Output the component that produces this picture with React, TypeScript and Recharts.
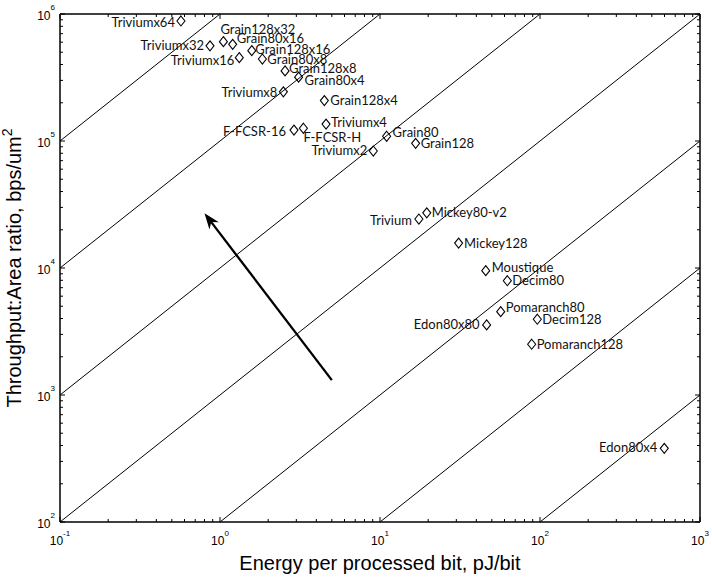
import { ScatterChart, Scatter, XAxis, YAxis, ReferenceLine } from "recharts";

// stream cipher designs, energy (pJ/bit) vs throughput:area (bps/um^2)
const designs = [
  "Triviumx64", "Triviumx32", "Grain128x32", "Grain80x16", "Triviumx16",
  "Grain128x16", "Grain80x8", "Grain128x8", "Triviumx8", "Grain80x4",
  "Grain128x4", "Triviumx4", "F-FCSR-16", "F-FCSR-H", "Grain80",
  "Triviumx2", "Grain128", "Trivium", "Mickey80-v2", "Mickey128",
  "Moustique", "Decim80", "Pomaranch80", "Edon80x80", "Decim128",
  "Pomaranch128", "Edon80x4",
];
const energy = [
  0.57, 0.866, 1.05, 1.2, 1.32,
  1.58, 1.84, 2.55, 2.49, 3.1,
  4.49, 4.6, 2.9, 3.32, 11.0,
  9.08, 16.7, 17.5, 19.6, 31.0,
  45.8, 62.5, 56.8, 46.4, 96.2,
  88.7, 598,
];
const throughputArea = [
  881000, 562000, 605000, 577000, 453000,
  514000, 442000, 356000, 244000, 318000,
  208000, 136000, 122000, 126000, 109000,
  83400, 95900, 24300, 27200, 15700,
  9530, 7940, 4530, 3560, 3950,
  2510, 380,
];

const xMajor = [0.1, 1, 10, 100, 1000];
const yMajor = [100, 1000, 10000, 100000, 1000000];
const minorSteps = [2, 3, 4, 5, 6, 7, 8, 9];

// constant efficiency lines: [x1, y1, x2, y2]
const isoLines = [
  [0.1, 1e5, 1, 1e6],
  [0.1, 1e4, 10, 1e6],
  [0.1, 1e3, 100, 1e6],
  [0.1, 1e2, 1000, 1e6],
  [1, 1e2, 1000, 1e5],
  [10, 1e2, 1000, 1e4],
  [100, 1e2, 1000, 1e3],
];
const arrow = [5, 1310, 0.8, 27000];

// label placement: [anchor, dx, dy]
const labelPos: Record<string, [string, number, number]> = {
  Triviumx64: ["end", -6, 6],
  Triviumx32: ["end", -6, 4.5],
  Triviumx16: ["end", -5, 7],
  Triviumx8: ["end", -6, 5],
  Grain128x32: ["start", -3, -8],
  Grain80x16: ["start", 4, -1],
  Grain128x16: ["start", 3.5, 3],
  Grain80x8: ["start", 5, 4.5],
  Grain128x8: ["start", 4, 2.5],
  Grain80x4: ["start", 6, 8],
  Grain128x4: ["start", 6, 4.5],
  Triviumx4: ["start", 5, 3],
  "F-FCSR-16": ["end", -8, 5.5],
  "F-FCSR-H": ["start", 0, 14],
  Triviumx2: ["end", -6, 3.5],
  Grain80: ["start", 6, 0.5],
  Grain128: ["start", 5, 4.5],
  Trivium: ["end", -7, 5.5],
  "Mickey80-v2": ["start", 5, 4.5],
  Mickey128: ["start", 5.5, 4.5],
  Moustique: ["start", 6, 1],
  Decim80: ["start", 5, 4.5],
  Pomaranch80: ["start", 5, 0],
  Edon80x80: ["end", -7, 4.5],
  Decim128: ["start", 5, 4.5],
  Pomaranch128: ["start", 5, 4.5],
  Edon80x4: ["end", -7, 3.5],
};

const points = designs.map((name, i) => ({ name, x: energy[i], y: throughputArea[i] }));

const withMinor = (majors: number[]) => {
  const out: number[] = [];
  majors.forEach((m, i) => {
    out.push(m);
    if (i < majors.length - 1) minorSteps.forEach((s) => out.push(m * s));
  });
  return out;
};
const xTicks = withMinor(xMajor);
const yTicks = withMinor(yMajor);

const isMajor = (v: number) => Math.abs(Math.log10(v) - Math.round(Math.log10(v))) < 1e-6;

const tickFont = "'Liberation Sans', Arial, sans-serif";

const XTick = (props: any) => {
  const { x, y, payload, side } = props;
  const major = isMajor(payload.value);
  const len = major ? 5 : 3;
  const dir = side === "bottom" ? -1 : 1;
  return (
    <g>
      <line x1={x} x2={x} y1={y} y2={y + dir * len} stroke="#000" strokeWidth={1} />
      {major && side === "bottom" && (
        <text x={x} y={y + 23} textAnchor="middle" fontSize={12} fontFamily={tickFont} fill="#000">
          10
          <tspan fontSize={8} dy={-9}>{Math.round(Math.log10(payload.value))}</tspan>
        </text>
      )}
    </g>
  );
};

const YTick = (props: any) => {
  const { x, y, payload, side } = props;
  const major = isMajor(payload.value);
  const len = major ? 5 : 3;
  const dir = side === "left" ? 1 : -1;
  return (
    <g>
      <line x1={x} x2={x + dir * len} y1={y} y2={y} stroke="#000" strokeWidth={1} />
      {major && side === "left" && (
        <text x={x - 5} y={y + 6} textAnchor="end" fontSize={12} fontFamily={tickFont} fill="#000">
          10
          <tspan fontSize={8} dy={-10}>{Math.round(Math.log10(payload.value))}</tspan>
        </text>
      )}
    </g>
  );
};

const Marker = (props: any) => {
  const { cx, cy, payload } = props;
  const [anchor, dx, dy] = labelPos[payload.name] ?? ["start", 5, 4.5];
  return (
    <g>
      <path
        d={`M${cx},${cy - 5}L${cx + 4},${cy}L${cx},${cy + 5}L${cx - 4},${cy}Z`}
        fill="none"
        stroke="#000"
        strokeWidth={1.1}
      />
      <text
        x={cx + dx}
        y={cy + dy}
        textAnchor={anchor}
        fontSize={13}
        fontFamily="Lato, 'Open Sans', sans-serif"
        fill="#111"
      >
        {payload.name}
      </text>
    </g>
  );
};

const ArrowShape = (props: any) => {
  const { x1, y1, x2, y2 } = props;
  const ang = Math.atan2(y2 - y1, x2 - x1);
  const L = 16;
  const W = 6;
  const bx = x2 - L * Math.cos(ang);
  const by = y2 - L * Math.sin(ang);
  const nx = -Math.sin(ang);
  const ny = Math.cos(ang);
  const mx = x2 - L * 0.7 * Math.cos(ang);
  const my = y2 - L * 0.7 * Math.sin(ang);
  return (
    <g>
      <line x1={x1} y1={y1} x2={mx} y2={my} stroke="#000" strokeWidth={2.3} />
      <path
        d={`M${x2},${y2}L${bx + nx * W},${by + ny * W}L${mx},${my}L${bx - nx * W},${by - ny * W}Z`}
        fill="#000"
      />
    </g>
  );
};

const XTitle = (props: any) => {
  const { viewBox } = props;
  return (
    <text
      x={viewBox.x + viewBox.width / 2}
      y={viewBox.y + 48}
      textAnchor="middle"
      fontSize={20}
      fontFamily={tickFont}
      fill="#000"
    >
      Energy per processed bit, pJ/bit
    </text>
  );
};

const YTitle = (props: any) => {
  const { viewBox } = props;
  const cx = 21;
  const cy = viewBox.y + viewBox.height / 2;
  return (
    <text
      x={cx}
      y={cy}
      transform={`rotate(-90 ${cx} ${cy})`}
      textAnchor="middle"
      fontSize={20}
      fontFamily={tickFont}
      fill="#000"
    >
      Throughput:Area ratio, bps/um
      <tspan fontSize={14} dy={-9}>2</tspan>
    </text>
  );
};

export default function App() {
  return (
    <div style={{ position: "absolute", left: 0, top: 0, background: "#fff" }}>
      <ScatterChart width={712} height={581} margin={{ top: 0, right: 11, bottom: 0, left: 0 }}>
        <XAxis
          xAxisId="b"
          type="number"
          dataKey="x"
          scale="log"
          domain={[0.1, 1000]}
          allowDataOverflow
          ticks={xTicks}
          interval={0}
          height={59}
          tickSize={0}
          tickMargin={0}
          tick={(p: any) => <XTick {...p} side="bottom" />}
          axisLine={{ stroke: "#000", strokeWidth: 1.5 }}
          label={<XTitle />}
        />
        <XAxis
          xAxisId="t"
          orientation="top"
          type="number"
          dataKey="x"
          scale="log"
          domain={[0.1, 1000]}
          allowDataOverflow
          ticks={xTicks}
          interval={0}
          height={14}
          tickSize={0}
          tickMargin={0}
          tick={(p: any) => <XTick {...p} side="top" />}
          axisLine={{ stroke: "#000", strokeWidth: 1.5 }}
        />
        <YAxis
          yAxisId="l"
          type="number"
          dataKey="y"
          scale="log"
          domain={[100, 1000000]}
          allowDataOverflow
          ticks={yTicks}
          interval={0}
          width={60}
          tickSize={0}
          tickMargin={0}
          tick={(p: any) => <YTick {...p} side="left" />}
          axisLine={{ stroke: "#000", strokeWidth: 1.5 }}
          label={<YTitle />}
        />
        <YAxis
          yAxisId="r"
          orientation="right"
          type="number"
          dataKey="y"
          scale="log"
          domain={[100, 1000000]}
          allowDataOverflow
          ticks={yTicks}
          interval={0}
          width={1}
          tickSize={0}
          tickMargin={0}
          tick={(p: any) => <YTick {...p} side="right" />}
          axisLine={{ stroke: "#000", strokeWidth: 1.5 }}
        />
        {isoLines.map((s, i) => (
          <ReferenceLine
            key={i}
            xAxisId="b"
            yAxisId="l"
            segment={[{ x: s[0], y: s[1] }, { x: s[2], y: s[3] }]}
            stroke="#000"
            strokeWidth={1}
            ifOverflow="visible"
          />
        ))}
        <ReferenceLine
          xAxisId="b"
          yAxisId="l"
          segment={[{ x: arrow[0], y: arrow[1] }, { x: arrow[2], y: arrow[3] }]}
          ifOverflow="visible"
          shape={(p: any) => <ArrowShape {...p} />}
        />
        <Scatter
          xAxisId="b"
          yAxisId="l"
          data={points}
          shape={(p: any) => <Marker {...p} />}
          isAnimationActive={false}
        />
        <Scatter
          xAxisId="t"
          yAxisId="r"
          data={points}
          shape={() => <g />}
          isAnimationActive={false}
        />
      </ScatterChart>
    </div>
  );
}
